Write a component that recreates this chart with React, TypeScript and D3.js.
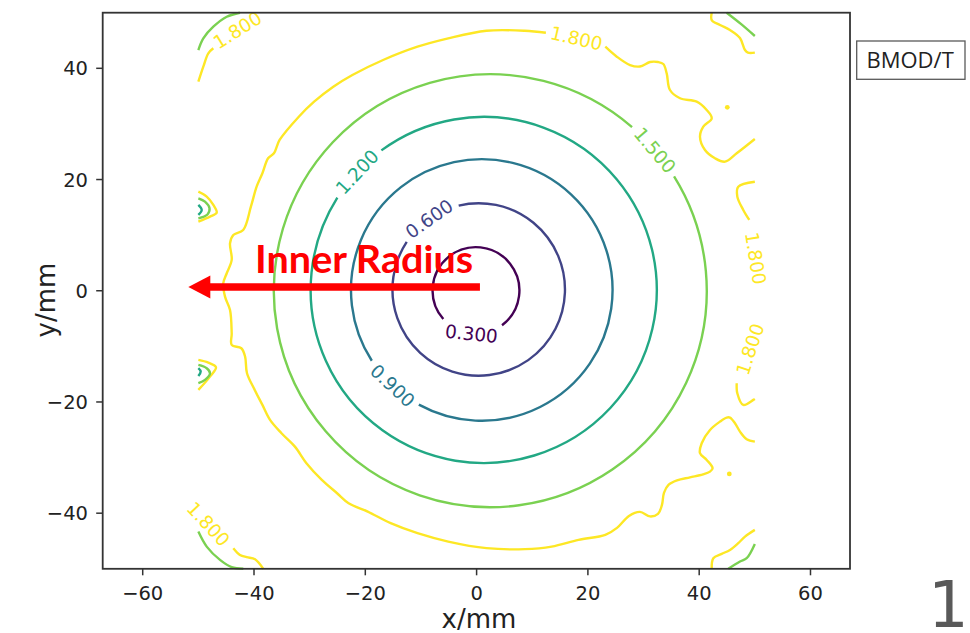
import * as d3 from "d3";

// ---------------------------------------------------------------------------
// Data (mm / tesla)
// ---------------------------------------------------------------------------

const LEVELS = [0.3, 0.6, 0.9, 1.2, 1.5, 1.8];

const X_TICKS = [-60, -40, -20, 0, 20, 40, 60];
const Y_TICKS = [-40, -20, 0, 20, 40];

// near-circular inner contours
const RING_LEVELS = [0.3, 0.6, 0.9, 1.2, 1.5];
const RING_CX = [-0.11, 0.38, 0.93, 1.28, 2.46];
const RING_CY = [0.04, 0.23, 0.14, 0.14, 0.0];
const RING_R = [7.8, 15.5, 23.5, 31.1, 38.9];
const RING_LABEL_ANGLE = [-96, 125, -133, 137, 40.5];

// 1.8 T outer contour, before / after the top label
const OUTER_18_A: [number, number][] = [
  [50, -27.13], [48.53, -26.7], [47.33, -25.33], [46.43, -23.82], [45.53, -22.81],
  [44.94, -22.81], [43.74, -23.53], [41.94, -25.03], [40.45, -27.42], [40.14, -29.21],
  [41.35, -30.42], [42.41, -31.91], [41.94, -32.52], [40.68, -33.03], [38.35, -33.56],
  [36.01, -34.1], [34.48, -34.91], [33.67, -36.35], [33.31, -38.51], [32.6, -40.13],
  [31.16, -40.58], [29.36, -39.77], [27.38, -40.49], [25.23, -42.64], [23.13, -43.9],
  [18.31, -44.8], [13.48, -46.01], [8.66, -46.47], [1.78, -46.29], [-5.1, -45.11],
  [-10.62, -43.6], [-15.44, -41.8], [-19.57, -39.71], [-23.0, -38.2], [-25.07, -36.41],
  [-27.82, -34.01], [-30.58, -31.01], [-32.65, -28.03], [-35.06, -25.62], [-37.12, -23.23],
  [-38.49, -20.53], [-39.87, -17.83], [-41.26, -14.83], [-41.6, -11.85], [-42.28, -10.34],
  [-44.01, -9.74], [-44.01, -7.64], [-44.31, -3.45], [-45.21, -1.06], [-45.52, 1.35],
  [-44.9, 3.15], [-44.01, 5.54], [-44.31, 8.54], [-43.72, 10.03], [-41.94, 10.93],
  [-40.56, 15.12], [-39.53, 18.71], [-38.49, 21.12], [-37.47, 23.82], [-36.42, 24.72],
  [-35.4, 27.11], [-31.95, 31.3], [-29.2, 34.0], [-25.75, 36.69], [-22.32, 38.8],
  [-16.8, 41.49], [-10.62, 43.88], [-5.1, 45.39], [1.78, 46.76], [8.66, 46.76],
  [12.45, 46.4],
];
const OUTER_18_B: [number, number][] = [
  [23.13, 43.88], [25.19, 42.09], [27.57, 40.59], [29.36, 40.32], [31.16, 41.13],
  [32.6, 41.13], [33.55, 40.77], [34.16, 39.1], [34.75, 36.1], [36.55, 34.61],
  [39.55, 34.0], [41.35, 32.5], [42.25, 31.01], [40.74, 29.5], [40.14, 27.7],
  [41.04, 25.31], [42.84, 23.82], [44.64, 23.21], [46.74, 24.72], [50, 27.29],
];
const RIGHT_18_A: [number, number][] = [
  [50, 19.61], [47.02, 18.71], [46.85, 16.92], [47.92, 14.53], [49.0, 12.73],
];
const RIGHT_18_B: [number, number][] = [
  [46.74, -16.63], [46.85, -18.43], [47.92, -20.53], [49.72, -19.63], [50, -19.45],
];
const TOP_RIGHT_18: [number, number][] = [
  [42.25, 50], [42.25, 48.68], [43.74, 47.79], [45.53, 46.89], [47.33, 45.45],
  [48.23, 43.29], [48.77, 42.81], [50, 42.81],
];
const TOP_RIGHT_15: [number, number][] = [[44.94, 50], [47.6, 47.9], [50, 45.81]];
const TOP_LEFT_18: [number, number][] = [
  [-50, 37.59], [-49.11, 40.29], [-48.21, 42.7], [-47.31, 43.6],
];
const TOP_LEFT_15: [number, number][] = [
  [-50, 43.29], [-49.11, 45.39], [-47.31, 47.48], [-44.9, 49.28], [-42.52, 50],
];
const BOTTOM_LEFT_18: [number, number][] = [
  [-43.72, -46.29], [-42.52, -47.5], [-41.31, -47.91], [-39.82, -48.27], [-38.33, -50],
];
const BOTTOM_LEFT_15: [number, number][] = [
  [-50, -43.31], [-48.5, -46.01], [-46.11, -48.4], [-44.01, -49.71], [-41.92, -50],
];
const BOTTOM_RIGHT_18: [number, number][] = [
  [50, -43.0], [48.23, -44.21], [47.02, -45.39], [45.53, -46.6], [44.04, -47.32],
  [42.54, -48.09], [42.25, -50],
];
const BOTTOM_RIGHT_15: [number, number][] = [
  [50, -45.52], [48.53, -48.09], [47.33, -48.7], [45.23, -50],
];
const EDGE_UP_18: [number, number][] = [
  [-50, 17.82], [-48.5, 16.92], [-47.31, 15.43], [-46.7, 14.04], [-47.91, 13.32], [-50, 12.42],
];
const EDGE_UP_15: [number, number][] = [
  [-50, 16.63], [-48.81, 16.02], [-48.0, 14.83], [-48.36, 13.72], [-50, 13.03],
];
const EDGE_UP_12: [number, number][] = [[-50, 15.43], [-49.4, 14.53], [-50, 13.63]];
const EDGE_DN_18: [number, number][] = [
  [-50, -12.44], [-48.21, -12.93], [-46.83, -13.75], [-47.91, -15.44], [-50, -17.83],
];
const EDGE_DN_15: [number, number][] = [
  [-50, -13.34], [-48.5, -13.93], [-47.91, -14.83], [-48.81, -16.04], [-50, -16.63],
];
const EDGE_DN_12: [number, number][] = [[-50, -13.93], [-49.58, -14.54], [-50, -15.32]];

const PIECES: { level: number; pts: [number, number][] }[] = [
  { level: 1.8, pts: OUTER_18_A },
  { level: 1.8, pts: OUTER_18_B },
  { level: 1.8, pts: RIGHT_18_A },
  { level: 1.8, pts: RIGHT_18_B },
  { level: 1.8, pts: TOP_RIGHT_18 },
  { level: 1.5, pts: TOP_RIGHT_15 },
  { level: 1.8, pts: TOP_LEFT_18 },
  { level: 1.5, pts: TOP_LEFT_15 },
  { level: 1.8, pts: BOTTOM_LEFT_18 },
  { level: 1.5, pts: BOTTOM_LEFT_15 },
  { level: 1.8, pts: BOTTOM_RIGHT_18 },
  { level: 1.5, pts: BOTTOM_RIGHT_15 },
  { level: 1.8, pts: EDGE_UP_18 },
  { level: 1.5, pts: EDGE_UP_15 },
  { level: 1.2, pts: EDGE_UP_12 },
  { level: 1.8, pts: EDGE_DN_18 },
  { level: 1.5, pts: EDGE_DN_15 },
  { level: 1.2, pts: EDGE_DN_12 },
];

// tiny closed 1.8 islands
const DOT_X = [45.05, 45.41];
const DOT_Y = [32.99, -32.94];

// inline "1.800" labels on the open pieces
const LABEL18_X = [17.95, 50.15, 49.13, -42.97, -48.21];
const LABEL18_Y = [45.39, 5.84, -10.5, 46.89, -41.96];
const LABEL18_ROT = [13, 81, -72, -32, 47];

// annotation arrow (mm)
const ARROW_FROM = [0.6, 0.67];
const ARROW_TO = [-51.8, 0.67];
const ANNOT_POS = [-39.8, 3.25];

// ---------------------------------------------------------------------------
// Layout
// ---------------------------------------------------------------------------

const W = 970;
const H = 633;
const PLOT = { left: 102.7, right: 850, top: 12.7, bottom: 568.8 };
const FONT = "'DejaVu Sans', sans-serif";
const LABEL_SIZE = 18.5;
const LINE_W = 2.4;

export default function App() {
  const x = d3.scaleLinear().domain([-67.19, 67.1]).range([PLOT.left, PLOT.right]);
  const y = d3.scaleLinear().domain([-50, 50]).range([PLOT.bottom, PLOT.top]);
  const color = (v: number) =>
    d3.interpolateViridis((v - LEVELS[0]) / (LEVELS[LEVELS.length - 1] - LEVELS[0]));

  const line = d3
    .line<[number, number]>()
    .x((d) => x(d[0]))
    .y((d) => y(d[1]))
    .curve(d3.curveCatmullRom.alpha(0.5));

  const labelHalf = (2.862 * LABEL_SIZE) / 2 + 6;

  const rings = RING_LEVELS.map((lv, i) => {
    const cx = x(RING_CX[i]);
    const cy = y(RING_CY[i]);
    const r = x(RING_CX[i] + RING_R[i]) - cx;
    const s = (-RING_LABEL_ANGLE[i] * Math.PI) / 180;
    const hg = labelHalf / r;
    const p = d3.path();
    p.arc(cx, cy, r, s + hg, s + 2 * Math.PI - hg);
    let rot = (s * 180) / Math.PI + 90;
    while (rot > 90) rot -= 180;
    while (rot <= -90) rot += 180;
    return {
      lv,
      d: p.toString(),
      lx: cx + r * Math.cos(s),
      ly: cy + r * Math.sin(s),
      rot,
    };
  });

  const ax0 = x(ARROW_FROM[0]);
  const ax1 = x(ARROW_TO[0]);
  const ay = y(ARROW_FROM[1]);
  const headLen = 22;
  const headHalf = 11.5;

  return (
    <svg
      width={W}
      height={H}
      style={{ position: "absolute", left: 0, top: 0, display: "block", background: "#fff" }}
    >
      {/* contour rings */}
      {rings.map((r) => (
        <g key={r.lv}>
          <path d={r.d} fill="none" stroke={color(r.lv)} strokeWidth={LINE_W} />
          <text
            x={r.lx}
            y={r.ly}
            dy="0.36em"
            textAnchor="middle"
            fontFamily={FONT}
            fontSize={LABEL_SIZE}
            fill={color(r.lv)}
            transform={`rotate(${r.rot},${r.lx},${r.ly})`}
          >
            {r.lv.toFixed(3)}
          </text>
        </g>
      ))}

      {/* open contour pieces */}
      {PIECES.map((p, i) => (
        <path
          key={i}
          d={line(p.pts) ?? ""}
          fill="none"
          stroke={color(p.level)}
          strokeWidth={LINE_W}
          strokeLinejoin="round"
        />
      ))}

      {DOT_X.map((dx, i) => (
        <circle key={i} cx={x(dx)} cy={y(DOT_Y[i])} r={2.4} fill={color(1.8)} />
      ))}

      {LABEL18_X.map((lx, i) => (
        <text
          key={i}
          x={x(lx)}
          y={y(LABEL18_Y[i])}
          dy="0.36em"
          textAnchor="middle"
          fontFamily={FONT}
          fontSize={LABEL_SIZE}
          fill={color(1.8)}
          transform={`rotate(${LABEL18_ROT[i]},${x(lx)},${y(LABEL18_Y[i])})`}
        >
          {(1.8).toFixed(3)}
        </text>
      ))}

      {/* axes frame */}
      <rect
        x={PLOT.left}
        y={PLOT.top}
        width={PLOT.right - PLOT.left}
        height={PLOT.bottom - PLOT.top}
        fill="none"
        stroke="#333"
        strokeWidth={1.8}
      />

      {X_TICKS.map((t) => (
        <g key={t}>
          <line x1={x(t)} x2={x(t)} y1={PLOT.bottom} y2={PLOT.bottom + 6.5} stroke="#333" strokeWidth={1.5} />
          <text x={x(t)} y={600} textAnchor="middle" fontFamily={FONT} fontSize={19.5} fill="#222">
            {t < 0 ? `\u2212${-t}` : t}
          </text>
        </g>
      ))}
      {Y_TICKS.map((t) => (
        <g key={t}>
          <line x1={PLOT.left - 6.5} x2={PLOT.left} y1={y(t)} y2={y(t)} stroke="#333" strokeWidth={1.5} />
          <text x={88} y={y(t)} dy="0.36em" textAnchor="end" fontFamily={FONT} fontSize={19.5} fill="#222">
            {t < 0 ? `\u2212${-t}` : t}
          </text>
        </g>
      ))}

      <text x={479} y={628} textAnchor="middle" fontFamily={FONT} fontSize={26} fill="#222">
        x/mm
      </text>
      <text
        x={55}
        y={300}
        textAnchor="middle"
        fontFamily={FONT}
        fontSize={26}
        fill="#222"
        transform="rotate(-90,55,300)"
      >
        y/mm
      </text>

      {/* annotation */}
      <line x1={ax0} x2={ax1 + headLen - 1} y1={ay} y2={ay} stroke="#ff0000" strokeWidth={7.5} />
      <path
        d={`M${ax1},${ay}L${ax1 + headLen},${ay - headHalf}L${ax1 + headLen},${ay + headHalf}Z`}
        fill="#ff0000"
      />
      <text
        x={x(ANNOT_POS[0])}
        y={y(ANNOT_POS[1])}
        fontFamily="Lato, 'Open Sans', sans-serif"
        fontWeight={700}
        fontSize={38}
        fill="#ff0000"
        textLength={218}
        lengthAdjust="spacingAndGlyphs"
      >
        Inner Radius
      </text>

      {/* quantity box */}
      <rect x={856.7} y={41} width={108.3} height={38.3} fill="#fff" stroke="#595959" strokeWidth={1.3} />
      <text x={866.5} y={67.7} fontFamily="'Open Sans', sans-serif" fontSize={22} fill="#222">
        BMOD/T
      </text>

      {/* slide page number */}
      <text x={928} y={626.7} fontFamily={FONT} fontSize={64} fill="#595959">
        1
      </text>
    </svg>
  );
}
